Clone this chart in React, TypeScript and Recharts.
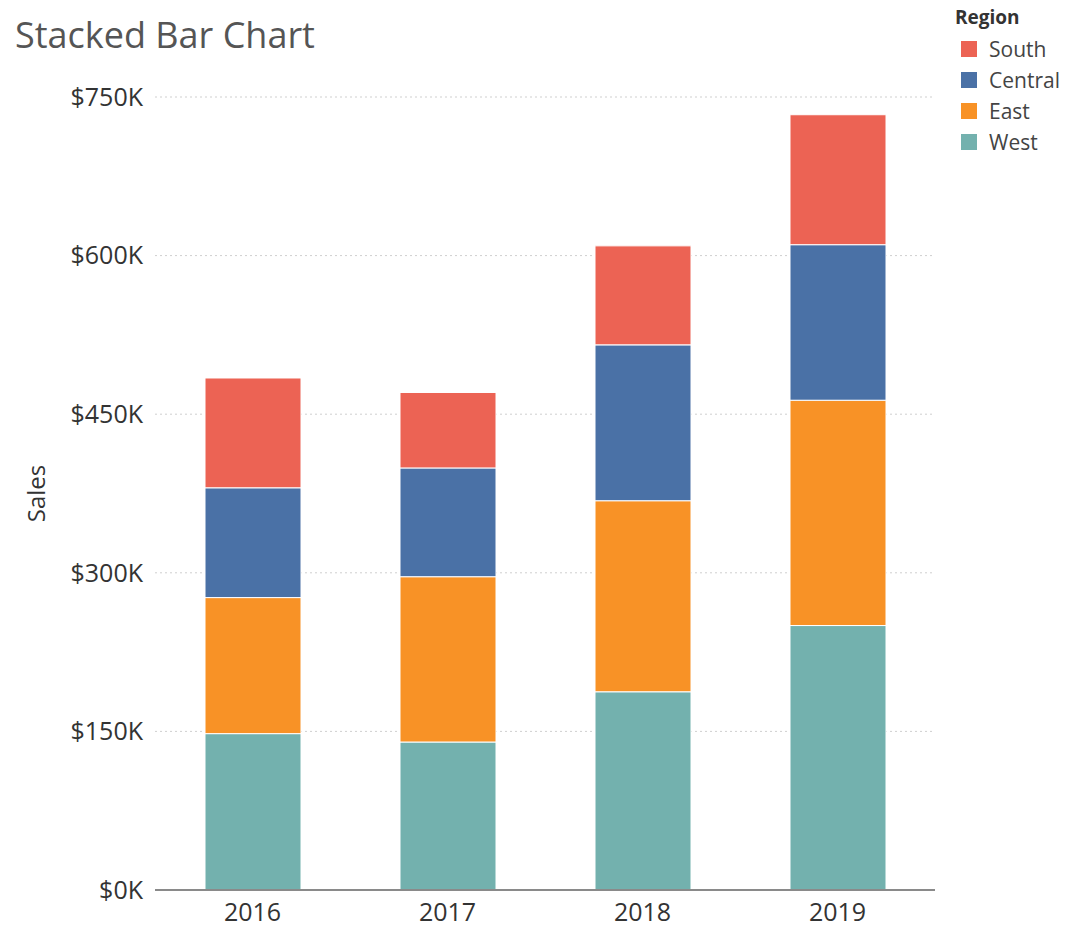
import { BarChart, Bar, XAxis, YAxis, CartesianGrid } from "recharts";

const years = ["2016", "2017", "2018", "2019"];
const west = [147883, 139966, 187480, 250128];
const east = [128680, 156332, 180686, 213083];
const central = [103838, 102874, 147429, 147098];
const south = [103846, 71360, 93610, 122906];
const yTicks = [0, 150000, 300000, 450000, 600000, 750000];

const data = years.map((year, i) => ({
  year,
  West: west[i],
  East: east[i],
  Central: central[i],
  South: south[i],
}));

const SERIES = [
  { key: "West", color: "#73b1ae" },
  { key: "East", color: "#f89226" },
  { key: "Central", color: "#4a71a6" },
  { key: "South", color: "#ec6354" },
];

const FONT = "'Open Sans', sans-serif";

function RegionLegend() {
  const items = [...SERIES].reverse();
  return (
    <div style={{ position: "absolute", left: 955, top: 4, fontFamily: FONT }}>
      <div style={{ fontSize: 19, fontWeight: 700, marginBottom: 3, color: "#333" }}>Region</div>
      {items.map((s) => (
        <div key={s.key} style={{ display: "flex", alignItems: "center", height: 31 }}>
          <span
            style={{
              display: "inline-block",
              width: 16,
              height: 16,
              background: s.color,
              marginLeft: 6,
              marginRight: 12,
            }}
          />
          <span style={{ fontSize: 21, color: "#444" }}>{s.key}</span>
        </div>
      ))}
    </div>
  );
}

export default function App() {
  return (
    <div style={{ position: "absolute", top: 0, left: 0, width: 1084, height: 930, background: "#fff" }}>
      <div
        style={{
          position: "absolute",
          left: 15,
          top: 10,
          fontFamily: FONT,
          fontSize: 36,
          fontWeight: 400,
          color: "#555",
        }}
      >
        Stacked Bar Chart
      </div>
      <RegionLegend />
      <BarChart
        width={1084}
        height={930}
        data={data}
        margin={{ top: 97, right: 149, left: 0, bottom: 10 }}
        barSize={96}
      >
        <CartesianGrid vertical={false} stroke="#cfcfcf" strokeDasharray="2 3" />
        <XAxis
          dataKey="year"
          height={30}
          tick={{ fill: "#333", fontSize: 25, fontFamily: FONT }}
          axisLine={{ stroke: "#8a8a8a", strokeWidth: 2 }}
          tickLine={false}
          tickSize={0}
          tickMargin={13}
        />
        <YAxis
          width={155}
          domain={[0, 750000]}
          ticks={yTicks}
          tick={{ fill: "#333", fontSize: 25, fontFamily: FONT }}
          tickFormatter={(v: number) => `$${v / 1000}K`}
          axisLine={false}
          tickLine={false}
          tickSize={0}
          tickMargin={12}
          label={{
            value: "Sales",
            angle: -90,
            position: "insideLeft",
            offset: 36,
            style: { textAnchor: "middle", fill: "#333", fontSize: 24, fontFamily: FONT },
          }}
        />
        {SERIES.map((s) => (
          <Bar
            key={s.key}
            dataKey={s.key}
            stackId="a"
            fill={s.color}
            stroke="#fff"
            strokeWidth={1}
            isAnimationActive={false}
          />
        ))}
      </BarChart>
    </div>
  );
}
